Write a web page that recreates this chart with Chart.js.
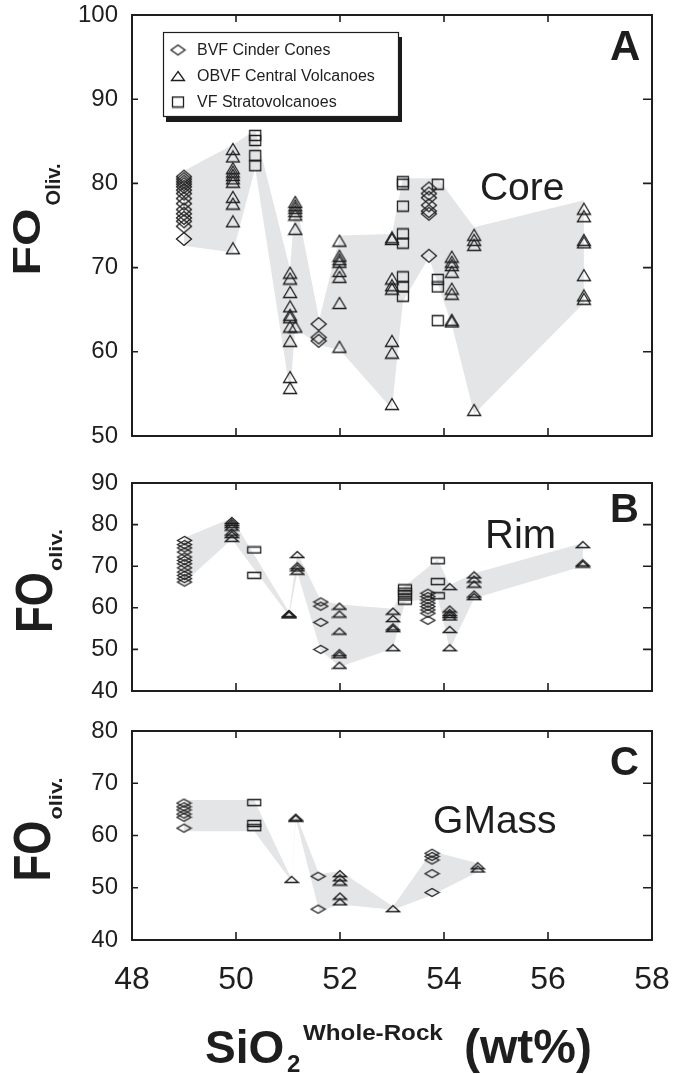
<!DOCTYPE html>
<html>
<head>
<meta charset="utf-8">
<script src="https://cdn.jsdelivr.net/npm/chart.js@4.4.1/dist/chart.umd.min.js"></script>
<style>
  html, body { margin: 0; padding: 0; background: #fff; }
  #wrap { position: relative; width: 676px; height: 1074px; overflow: hidden; }
  #wrap canvas { position: absolute; left: 0; }
</style>
</head>
<body>
<div id="wrap">
  <canvas id="core" width="676" height="460" style="top:0;width:676px;height:460px"></canvas>
  <canvas id="rim" width="676" height="250" style="top:460px;width:676px;height:250px"></canvas>
  <canvas id="gmass" width="676" height="364" style="top:710px;width:676px;height:364px"></canvas>
</div>
<script>
const FONT = "'Liberation Sans', Arial, Helvetica, sans-serif";
const INK = '#1e1e1e';
const SHADE = '#e4e5e7';

const seriesNames = ['BVF Cinder Cones', 'OBVF Central Volcanoes', 'VF Stratovolcanoes'];

// columns: [SiO2 whole-rock, [Fo values]]
// Panel A - cores
const coreBVF = [
  [49.0, [80.8, 80.5, 80.2, 79.9, 79.6, 79.2, 78.8, 78.2, 77.6, 76.9, 76.4, 75.9, 75.5, 74.9, 73.4]],
  [51.59, [63.3, 61.7, 61.3]],
  [53.71, [79.4, 78.8, 78.3, 77.4, 76.7, 76.4, 71.4]]
];
const coreOBVF = [
  [49.94, [84.1, 83.2, 81.8, 81.4, 81.0, 80.6, 80.2, 78.4, 77.6, 75.5, 72.3]],
  [51.04, [69.4, 68.7, 67.1, 65.4, 64.4, 64.1, 63.0, 61.3, 57.0, 55.7]],
  [51.14, [77.8, 77.4, 77.1, 76.7, 76.3, 74.6, 63.0]],
  [51.99, [73.2, 71.4, 71.0, 70.7, 69.6, 68.9, 65.8, 60.6]],
  [53.0, [73.6, 73.4, 68.7, 67.9, 67.5, 61.3, 59.9, 53.8]],
  [54.15, [71.3, 70.7, 70.3, 69.5, 67.5, 66.9, 63.8, 63.6]],
  [54.58, [73.9, 73.3, 72.7, 53.1]],
  [56.69, [77.0, 76.1, 73.3, 73.0, 69.1, 66.7, 66.3]]
];
const coreVF = [
  [50.37, [85.7, 85.1, 83.3, 82.1]],
  [53.21, [80.2, 79.9, 77.3, 74.0, 72.9, 68.9, 67.7, 66.6]],
  [53.88, [79.9, 68.6, 67.7, 63.7]]
];
const coreEnvelope = [
  [49.0, 81.5], [49.94, 84.6], [50.37, 86.3], [51.04, 69.8], [51.14, 78.3], [51.6, 63.8],
  [52.0, 73.8], [53.0, 74.0], [53.21, 80.6], [53.88, 80.6], [54.58, 74.8], [56.69, 78.0],
  [56.69, 65.8], [54.58, 52.6], [54.15, 63.2], [53.71, 71.2], [53.21, 66.0], [53.0, 53.2],
  [52.0, 60.2], [51.6, 60.8], [51.14, 62.8], [51.04, 55.2], [50.37, 81.8], [49.94, 71.8], [49.0, 72.6]
];

// Panel B - rims
const rimBVF = [
  [49.01, [76.2, 75.2, 74.4, 73.4, 72.2, 71.4, 70.6, 69.6, 68.6, 67.8, 67.0, 66.2]],
  [51.63, [61.4, 60.4, 56.5, 50.0]],
  [53.69, [63.5, 62.7, 61.9, 61.1, 60.3, 59.5, 58.7, 57.0]]
];
const rimOBVF = [
  [49.92, [81.0, 80.5, 80.0, 79.4, 78.2, 77.6, 76.7]],
  [51.02, [58.6, 58.5, 58.3]],
  [51.18, [72.8, 70.1, 69.6, 68.8]],
  [51.99, [60.4, 58.5, 54.4, 49.2, 48.7, 46.2]],
  [53.02, [59.2, 57.4, 55.4, 55.0, 50.4]],
  [54.11, [65.1, 59.7, 58.9, 58.4, 57.8, 54.8, 50.4]],
  [54.58, [67.9, 66.9, 65.7, 63.3, 62.7]],
  [56.67, [75.2, 70.8, 70.5]]
];
const rimVF = [
  [50.35, [73.9, 67.8]],
  [53.25, [64.8, 64.0, 63.4, 62.6, 61.6]],
  [53.88, [71.3, 66.3, 62.9]]
];
const rimEnvelope = [
  [49.0, 76.8], [49.92, 81.6], [51.02, 59.0], [51.18, 73.2], [51.63, 61.8], [52.0, 60.8],
  [53.02, 59.8], [53.25, 65.3], [53.88, 71.6], [54.11, 65.5], [54.58, 68.3], [56.67, 75.6],
  [56.67, 70.0], [54.58, 62.3], [54.11, 50.0], [53.88, 62.6], [53.25, 61.4], [53.02, 50.2],
  [52.0, 45.8], [51.63, 49.6], [51.18, 68.5], [51.02, 58.0], [49.92, 76.5], [49.0, 66.0]
];

// Panel C - groundmass
const gmBVF = [
  [49.0, [66.2, 65.5, 64.9, 64.1, 63.5, 61.4]],
  [51.58, [52.2, 45.9]],
  [53.77, [56.6, 56.0, 55.3, 52.7, 49.1]]
];
const gmOBVF = [
  [51.07, [51.6]],
  [51.15, [63.5, 63.3]],
  [52.0, [52.7, 51.9, 51.1, 48.4, 47.3]],
  [53.02, [46.0]],
  [54.65, [54.2, 53.6]]
];
const gmVF = [
  [50.35, [66.3, 62.3, 61.5]]
];
const gmEnvelope = [
  [49.0, 66.8], [50.35, 66.8], [51.07, 51.6], [51.15, 64.0], [51.6, 52.6], [52.0, 53.2],
  [53.02, 46.4], [53.77, 57.0], [54.65, 54.7], [54.65, 53.0], [53.77, 48.6], [53.02, 45.8],
  [52.0, 46.8], [51.6, 45.5], [51.15, 63.2], [51.07, 51.2], [50.35, 60.8], [49.0, 60.8]
];

function toPoints(cols) {
  return cols.flatMap(([x, ys]) => ys.map(y => ({ x: x, y: y })));
}

// hollow marker drawn once and used as the point style
function marker(shape, w, h) {
  const c = document.createElement('canvas');
  c.width = w + 3;
  c.height = h + 3;
  const g = c.getContext('2d');
  const l = 1.5, t = 1.5, r = w + 1.5, b = h + 1.5;
  const cx = (l + r) / 2, cy = (t + b) / 2;
  g.strokeStyle = INK;
  g.lineWidth = 1.3;
  g.beginPath();
  if (shape === 'diamond') {
    g.moveTo(l, cy); g.lineTo(cx, t); g.lineTo(r, cy); g.lineTo(cx, b); g.closePath();
  } else if (shape === 'triangle') {
    g.moveTo(cx, t); g.lineTo(r, b); g.lineTo(l, b); g.closePath();
  } else {
    g.rect(l, t, w, h);
  }
  g.stroke();
  return c;
}

const bigMarks = { bvf: marker('diamond', 15, 13), obvf: marker('triangle', 13, 11), vf: marker('square', 11, 10) };
const flatMarks = { bvf: marker('diamond', 14, 8), obvf: marker('triangle', 13, 6), vf: marker('square', 13, 6) };
const legendMarks = [marker('diamond', 14, 10), marker('triangle', 13, 9), marker('square', 11, 10)];

const figurePlugin = {
  id: 'figure',
  beforeDatasetsDraw(chart, args, opts) {
    const { ctx, scales: { x, y } } = chart;
    ctx.save();
    ctx.beginPath();
    opts.envelope.forEach(([vx, vy], i) => {
      const px = x.getPixelForValue(vx), py = y.getPixelForValue(vy);
      if (i) ctx.lineTo(px, py); else ctx.moveTo(px, py);
    });
    ctx.closePath();
    ctx.fillStyle = SHADE;
    ctx.fill();
    ctx.restore();
  },
  afterDraw(chart, args, opts) {
    const { ctx, chartArea: a, scales: { x, y } } = chart;
    ctx.save();

    // frame and inward ticks
    ctx.strokeStyle = INK;
    ctx.lineWidth = 2;
    ctx.strokeRect(a.left, a.top, a.right - a.left, a.bottom - a.top);
    ctx.lineWidth = 1.6;
    ctx.beginPath();
    y.ticks.forEach(t => {
      if (t.value <= y.min || t.value >= y.max) return;
      const py = y.getPixelForValue(t.value);
      ctx.moveTo(a.left, py); ctx.lineTo(a.left + 6, py);
      ctx.moveTo(a.right, py); ctx.lineTo(a.right - 9, py);
    });
    x.ticks.forEach(t => {
      if (t.value <= x.min || t.value >= x.max) return;
      const px = x.getPixelForValue(t.value);
      ctx.moveTo(px, a.top); ctx.lineTo(px, a.top + 7);
      ctx.moveTo(px, a.bottom); ctx.lineTo(px, a.bottom - 8);
    });
    ctx.stroke();

    ctx.fillStyle = INK;
    ctx.textBaseline = 'alphabetic';
    ctx.textAlign = 'left';

    // panel name and letter
    ctx.font = `${opts.tag.size}px ${FONT}`;
    ctx.fillText(opts.tag.text, x.getPixelForValue(opts.tag.x), y.getPixelForValue(opts.tag.y));
    ctx.font = `bold ${opts.letter.size}px ${FONT}`;
    ctx.fillText(opts.letter.text, x.getPixelForValue(opts.letter.x), y.getPixelForValue(opts.letter.y));

    // y title: FO with subscript, rotated
    const t = opts.ytitle;
    const mainFont = `bold ${t.size}px ${FONT}`, subFont = `bold ${t.subSize}px ${FONT}`;
    ctx.font = mainFont;
    const mainW = ctx.measureText(t.main).width * t.stretch;
    ctx.font = subFont;
    const subW = ctx.measureText(t.sub).width * t.subStretch;
    const start = (a.top + a.bottom) / 2 - 6 + (mainW + t.gap + subW) / 2;
    ctx.save();
    ctx.translate(t.baseX, start);
    ctx.rotate(-Math.PI / 2);
    ctx.save();
    ctx.scale(t.stretch, 1);
    ctx.font = mainFont;
    ctx.fillText(t.main, 0, 0);
    ctx.restore();
    ctx.translate(mainW + t.gap, t.subBaseX - t.baseX);
    ctx.scale(t.subStretch, 1);
    ctx.font = subFont;
    ctx.fillText(t.sub, 0, 0);
    ctx.restore();

    // legend box with drop shadow
    if (opts.legend) {
      const left = a.left + 31, top = a.top + 17, w = 236, h = 85;
      ctx.fillStyle = '#1a1a1a';
      ctx.fillRect(left + 3, top + 5, w, h);
      ctx.fillStyle = '#fff';
      ctx.fillRect(left, top, w, h);
      ctx.strokeStyle = INK;
      ctx.lineWidth = 1.2;
      ctx.strokeRect(left + 0.5, top + 0.5, w - 1, h - 1);
      ctx.font = `16px ${FONT}`;
      ctx.fillStyle = INK;
      ctx.textBaseline = 'middle';
      chart.data.datasets.forEach((ds, i) => {
        const icon = legendMarks[i];
        const cy = top + 18 + i * 26;
        ctx.drawImage(icon, left + 15 - icon.width / 2, cy - icon.height / 2);
        ctx.fillText(ds.label, left + 34, cy + 1);
      });
      ctx.textBaseline = 'alphabetic';
    }

    // x title pieces
    if (opts.xtitle) {
      ctx.fillStyle = INK;
      opts.xtitle.forEach(p => {
        ctx.save();
        ctx.translate(p.x, p.y);
        ctx.scale(p.stretch || 1, 1);
        ctx.font = `bold ${p.size}px ${FONT}`;
        ctx.fillText(p.text, 0, 0);
        ctx.restore();
      });
    }
    ctx.restore();
  }
};

function makePanel(id, cfg) {
  const marks = cfg.marks;
  return new Chart(document.getElementById(id), {
    type: 'scatter',
    data: {
      datasets: [
        { label: seriesNames[0], data: toPoints(cfg.bvf), pointStyle: marks.bvf, pointRadius: 5 },
        { label: seriesNames[1], data: toPoints(cfg.obvf), pointStyle: marks.obvf, pointRadius: 5 },
        { label: seriesNames[2], data: toPoints(cfg.vf), pointStyle: marks.vf, pointRadius: 5 }
      ]
    },
    options: {
      responsive: false,
      animation: false,
      devicePixelRatio: 1,
      events: [],
      layout: { padding: cfg.padding },
      plugins: {
        legend: { display: false },
        tooltip: { enabled: false },
        figure: {
          envelope: cfg.envelope,
          tag: cfg.tag,
          letter: cfg.letter,
          ytitle: cfg.ytitle,
          legend: cfg.legend || false,
          xtitle: cfg.xtitle || null
        }
      },
      scales: {
        x: {
          type: 'linear',
          min: 48,
          max: 58,
          display: cfg.showX,
          grid: { display: false, drawTicks: false },
          border: { display: false },
          ticks: { stepSize: 2, padding: 24, maxRotation: 0, color: INK, font: { family: FONT, size: 32, lineHeight: 1 } },
          afterFit: s => {
            s.height = cfg.showX ? 60 : 0;
            s.paddingLeft = 0;
            s.paddingRight = 0;
          }
        },
        y: {
          type: 'linear',
          min: cfg.yMin,
          max: cfg.yMax,
          grid: { display: false, drawTicks: false },
          border: { display: false },
          ticks: { stepSize: 10, padding: 14, color: INK, font: { family: FONT, size: 24, lineHeight: 1 } },
          afterFit: s => {
            s.width = 132;
            s.paddingTop = 0;
            s.paddingBottom = 0;
          }
        }
      }
    },
    plugins: [figurePlugin]
  });
}

makePanel('core', {
  bvf: coreBVF, obvf: coreOBVF, vf: coreVF, envelope: coreEnvelope,
  marks: bigMarks, yMin: 50, yMax: 100, showX: false,
  padding: { left: 0, right: 24, top: 15, bottom: 24 },
  tag: { text: 'Core', x: 54.69, y: 78.0, size: 39 },
  letter: { text: 'A', x: 57.19, y: 94.7, size: 42 },
  ytitle: { main: 'FO', sub: 'Oliv.', size: 38, stretch: 1.27, baseX: 40, subSize: 20, subStretch: 1, subBaseX: 60, gap: 3 },
  legend: true
});

makePanel('rim', {
  bvf: rimBVF, obvf: rimOBVF, vf: rimVF, envelope: rimEnvelope,
  marks: flatMarks, yMin: 40, yMax: 90, showX: false,
  padding: { left: 0, right: 24, top: 23, bottom: 19 },
  tag: { text: 'Rim', x: 54.79, y: 74.4, size: 40 },
  letter: { text: 'B', x: 57.19, y: 80.6, size: 40 },
  ytitle: { main: 'FO', sub: 'oliv.', size: 51, stretch: 0.86, baseX: 52, subSize: 19, subStretch: 1.15, subBaseX: 62, gap: 1 }
});

makePanel('gmass', {
  bvf: gmBVF, obvf: gmOBVF, vf: gmVF, envelope: gmEnvelope,
  marks: flatMarks, yMin: 40, yMax: 80, showX: true,
  padding: { left: 0, right: 24, top: 21, bottom: 74 },
  tag: { text: 'GMass', x: 53.79, y: 60.5, size: 39 },
  letter: { text: 'C', x: 57.19, y: 71.6, size: 40 },
  ytitle: { main: 'FO', sub: 'oliv.', size: 51, stretch: 0.86, baseX: 50, subSize: 19, subStretch: 1.15, subBaseX: 62, gap: 1 },
  xtitle: [
    { text: 'SiO', x: 205, y: 353, size: 46 },
    { text: '2', x: 287, y: 362, size: 24 },
    { text: 'Whole-Rock', x: 303, y: 330, size: 22, stretch: 1.1 },
    { text: '(wt%)', x: 464, y: 353, size: 48 }
  ]
});
</script>
</body>
</html>
